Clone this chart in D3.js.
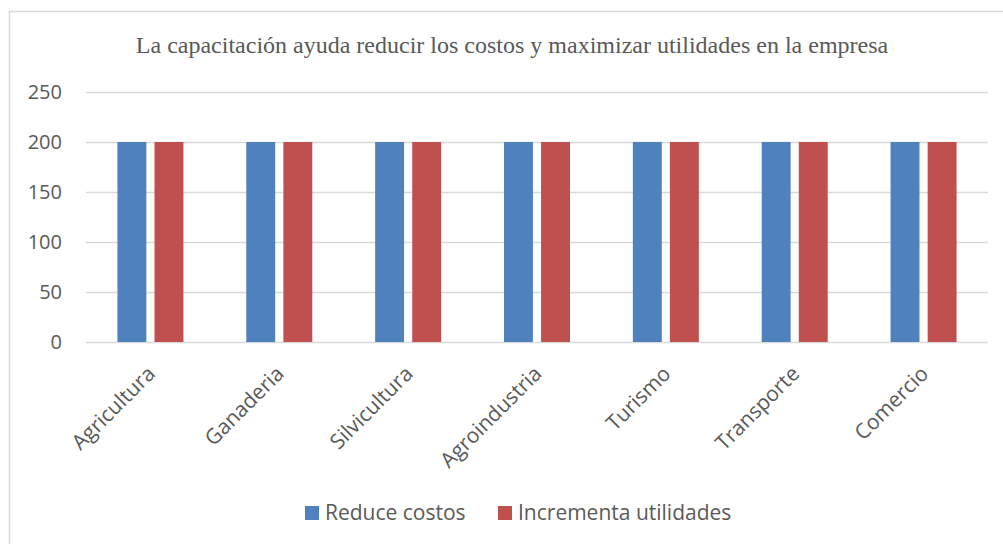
<!DOCTYPE html>
<html>
<head>
<meta charset="utf-8">
<script src="https://cdn.jsdelivr.net/npm/d3@7"></script>
<style>
  body { margin: 0; background: #fff; }
  .chart { width: 1003px; height: 544px; }
  text { fill: #595959; }
</style>
</head>
<body>
<div class="chart"></div>
<script>
// data
var categories = ["Agricultura", "Ganaderia", "Silvicultura", "Agroindustria", "Turismo", "Transporte", "Comercio"];
var seriesNames = ["Reduce costos", "Incrementa utilidades"];
var reduceCostos = [200, 200, 200, 200, 200, 200, 200];
var incrementaUtilidades = [200, 200, 200, 200, 200, 200, 200];
var yTicks = [0, 50, 100, 150, 200, 250];
var colors = ["#4F81BD", "#C0504D"];

var W = 1003, H = 544;
var margin = { top: 92, right: 15, bottom: 202, left: 86 },
    width = W - margin.left - margin.right,
    height = H - margin.top - margin.bottom;

var svg = d3.select(".chart").append("svg")
            .attr("width", W)
            .attr("height", H);

// outer chart border
svg.append("rect")
   .attr("x", 9.5).attr("y", 11.5)
   .attr("width", 1000).attr("height", 540)
   .attr("fill", "none")
   .attr("stroke", "#D9D9D9")
   .attr("stroke-width", 1.5);

svg.append("text")
   .attr("x", 512)
   .attr("y", 53)
   .attr("text-anchor", "middle")
   .style("font-family", "'Liberation Serif', 'Times New Roman', serif")
   .style("font-size", "24px")
   .text("La capacitación ayuda reducir los costos y maximizar utilidades en la empresa");

var g = svg.append("g")
           .attr("transform", "translate(" + margin.left + "," + margin.top + ")");

var x = d3.scaleBand()
          .domain(categories)
          .range([0, width]);

var y = d3.scaleLinear()
          .domain([0, 250])
          .range([height, 0]);

var x1 = d3.scaleBand()
           .domain(seriesNames)
           .range([0, 66])
           .paddingInner(0.22);

// gridlines + y labels
var yAxis = d3.axisLeft(y)
              .tickValues(yTicks)
              .tickSize(-width)
              .tickPadding(24);

var ya = g.append("g").call(yAxis);
ya.select(".domain").remove();
ya.selectAll(".tick line").attr("stroke", "#D9D9D9").attr("stroke-width", 1.5);
ya.selectAll(".tick text")
  .style("font-family", "'Open Sans', sans-serif")
  .style("font-size", "20px")
  .attr("fill", "#595959");

var rows = categories.map(function(c, i) {
  return { cat: c, values: [
    { name: seriesNames[0], v: reduceCostos[i] },
    { name: seriesNames[1], v: incrementaUtilidades[i] }
  ]};
});

var grp = g.selectAll(".grp")
           .data(rows)
           .enter().append("g")
           .attr("class", "grp")
           .attr("transform", function(d) {
             return "translate(" + (x(d.cat) + x.bandwidth() / 2 - 33) + ",0)";
           });

grp.selectAll("rect")
   .data(function(d) { return d.values; })
   .enter().append("rect")
   .attr("x", function(d) { return x1(d.name); })
   .attr("width", x1.bandwidth())
   .attr("y", function(d) { return y(d.v); })
   .attr("height", function(d) { return height - y(d.v); })
   .attr("fill", function(d, i) { return colors[i]; });

// category labels, rotated
g.selectAll(".xlab")
 .data(categories)
 .enter().append("text")
 .attr("class", "xlab")
 .attr("transform", function(d) {
   var cx = x(d) + x.bandwidth() / 2 + 6;
   return "translate(" + cx + "," + (height + 33) + ") rotate(-45)";
 })
 .attr("text-anchor", "end")
 .style("font-family", "'Open Sans', sans-serif")
 .style("font-size", "21px")
 .text(function(d) { return d; });

// legend
var legendX = [305, 498];
var leg = svg.selectAll(".leg")
             .data(seriesNames)
             .enter().append("g")
             .attr("class", "leg")
             .attr("transform", function(d, i) { return "translate(" + legendX[i] + ",506)"; });

leg.append("rect")
   .attr("width", 14).attr("height", 14)
   .attr("fill", function(d, i) { return colors[i]; });

leg.append("text")
   .attr("x", 20)
   .attr("y", 14)
   .style("font-family", "'Open Sans', sans-serif")
   .style("font-size", "21px")
   .text(function(d) { return d; });
</script>
</body>
</html>
